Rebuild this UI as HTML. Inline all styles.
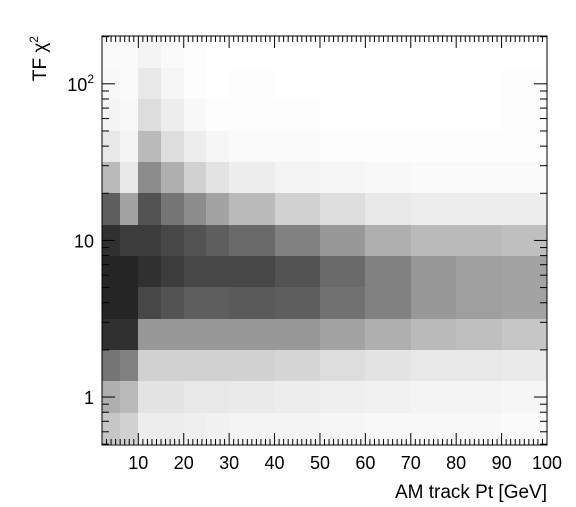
<!DOCTYPE html>
<html><head><meta charset="utf-8"><style>
body{margin:0;background:#fff;}
svg{display:block;font-family:"Liberation Sans",sans-serif;}
</style></head><body>
<svg id="chart" width="576" height="507" viewBox="0 0 576 507">
<rect width="576" height="507" fill="#fff"/>
<g id="cells" shape-rendering="crispEdges"></g>
<g id="axes"></g>
<text x="547" y="498" text-anchor="end" font-size="19">AM track Pt [GeV]</text>
<text transform="translate(46,36) rotate(-90)" text-anchor="end" font-size="19">TF χ<tspan font-size="12" dy="-8">2</tspan></text>
</svg>
<script>
const xEdges=[2,6,10,15,20,25,30,40,50,60,70,80,90,100];
const yLogEdges=[-0.3,-0.1,0.1,0.3,0.5,0.7,0.9,1.1,1.3,1.5,1.7,1.9,2.1,2.3];
const density=[
[.25,.35,.6,.9,.95,.95,.9,.7,.3,.1,.05,.03,.02],
[.2,.3,.55,.9,.95,.95,.85,.4,.1,.05,.03,.02,.02],
[.08,.12,.2,.45,.8,.9,.85,.75,.5,.3,.15,.1,.05],
[.08,.12,.2,.45,.75,.85,.8,.6,.35,.15,.08,.04,.02],
[.07,.1,.2,.45,.7,.8,.75,.5,.2,.08,.03,.01,.01],
[.06,.1,.2,.45,.7,.8,.7,.4,.12,.04,.01,0,0],
[.05,.09,.2,.45,.72,.8,.65,.3,.08,.02,.01,.01,0],
[.05,.08,.18,.45,.7,.75,.55,.2,.05,.02,.01,0,0],
[.04,.07,.15,.4,.62,.65,.45,.15,.04,.01,0,0,0],
[.03,.06,.12,.35,.55,.55,.35,.1,.03,.01,0,0,0],
[.03,.05,.1,.3,.45,.45,.3,.08,.02,.01,0,0,0],
[.03,.05,.1,.28,.42,.42,.3,.08,.02,.01,0,0,0],
[.02,.04,.09,.25,.4,.4,.28,.08,.02,.01,.01,.01,0]
];
const xTicks=[10,20,30,40,50,60,70,80,90,100];
const yTicks=[1,10,100];
const yTickLabels=["1","10","10²"];

const L=102,R=547,T=36,B=445,XMIN=2,XMAX=100,LMIN=Math.log10(0.494),LMAX=Math.log10(202);
const sx=v=>L+(v-XMIN)/(XMAX-XMIN)*(R-L);
const sy=v=>B-(Math.log10(v)-LMIN)/(LMAX-LMIN)*(B-T);
const NS="http://www.w3.org/2000/svg";
const cells=document.getElementById('cells'),axes=document.getElementById('axes');
function mk(tag,a,p){const e=document.createElementNS(NS,tag);for(const k in a)e.setAttribute(k,a[k]);p.appendChild(e);return e;}
function shade(d){const g=Math.round(255*(1-d*0.9));return 'rgb('+g+','+g+','+g+')';}
for(let i=0;i<density.length;i++)for(let j=0;j<density[i].length;j++){
 const y0=Math.pow(10,yLogEdges[j]),y1=Math.pow(10,yLogEdges[j+1]);
 const top=Math.round(Math.max(T,sy(y1))),bot=Math.round(Math.min(B,sy(y0)));
 const x0=Math.round(sx(xEdges[i])),x1=Math.round(sx(xEdges[i+1]));
 const r=mk('rect',{x:x0,y:top,width:x1-x0,height:bot-top,fill:shade(density[i][j])},cells);
 
 
}
const fr=mk('rect',{x:L,y:T,width:R-L,height:B-T,fill:'none',stroke:'#000','stroke-width':1},axes);


for(let v=2;v<=100;v++){const x=sx(v);const len=(v%10===0)?12:6;
 mk('line',{x1:x,x2:x,y1:B,y2:B-len,stroke:'#000'},axes);
 mk('line',{x1:x,x2:x,y1:T,y2:T+len,stroke:'#000'},axes);}
xTicks.forEach(v=>{const t=mk('text',{x:sx(v),y:B+24,'text-anchor':'middle','font-size':18},axes);t.textContent=v;
 
 });
for(let d=-1;d<=2;d++)for(let m=1;m<10;m++){const v=m*Math.pow(10,d);if(v<0.494||v>202)continue;const y=sy(v);const len=m===1?13:7;
 mk('line',{x1:L,x2:L+len,y1:y,y2:y,stroke:'#000'},axes);
 mk('line',{x1:R,x2:R-len,y1:y,y2:y,stroke:'#000'},axes);}
yTicks.forEach((v,i)=>{const t=mk('text',{x:94,y:sy(v)+7,'text-anchor':'end','font-size':18},axes);
 if(v===100){t.textContent='10';const s=mk('tspan',{'font-size':12,dy:-8},t);s.textContent='2';}else t.textContent=yTickLabels[i];
 
 });
</script>
</body></html>
